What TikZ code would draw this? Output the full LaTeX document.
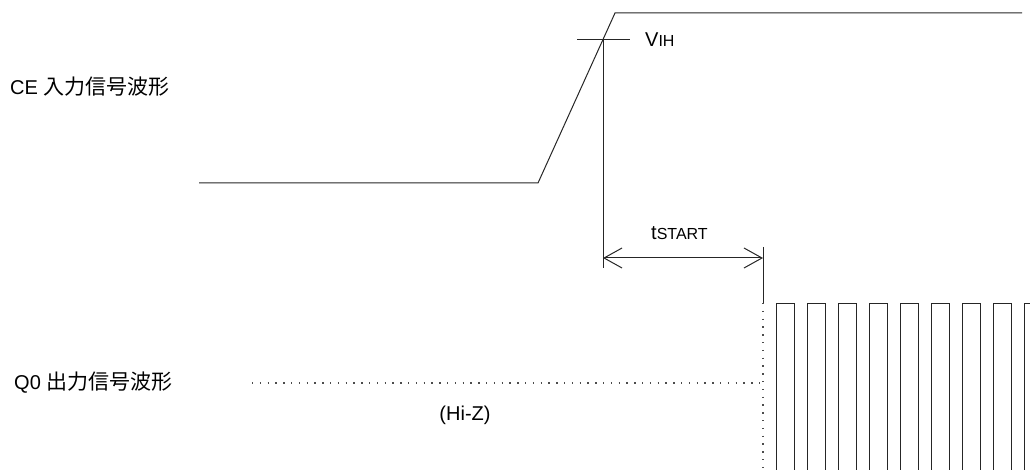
\documentclass[tikz,border=0pt]{standalone}
\usepackage{fontspec}
\setmainfont{Liberation Sans}
\newfontfamily\jpfont[Scale=1.05]{Noto Sans CJK JP}
\usetikzlibrary{arrows.meta}
\tikzset{
  wave/.style={line width=1pt, black!85},
  hiz/.style={line width=1.3pt, black!70, dash pattern=on 1.3pt off 6.5pt},
  lbl/.style={inner sep=0pt, font=\fontsize{20}{24}\selectfont},
  barb/.tip={Straight Barb[length=18pt, width=20pt, line width=1pt]},
}
\newcommand{\lowtxt}[1]{{\fontsize{16}{18}\selectfont #1}}

\begin{document}
\begin{tikzpicture}[x=1pt, y=-1pt]
  \useasboundingbox (0,0) rectangle (1030,470);
  \clip (0,0) rectangle (1030,470);
  % signal names
  \node[lbl, anchor=base west] (ce) at (10,95) {CE {\jpfont 入力信号波形}};
  \node[lbl, anchor=base west] (q0) at (14,389) {Q0 {\jpfont 出力信号波形}};
  % CE input: low, rising edge, high
  \draw[wave] (199,183) -- (538,183) -- (615,13) -- (1022,13);
  % VIH crossing and the tSTART marker
  \coordinate (vih) at (603,40);
  \coordinate (ts) at (603,258);
  \coordinate (te) at (763,258);
  \draw[wave] (577,40) -- (630,40);
  \node[lbl, anchor=base west] (vihlbl) at (645,47) {V\lowtxt{IH}};
  \draw[wave] (vih) -- (603,268);
  \draw[wave, barb-barb] (ts) -- (te);
  \node[lbl, anchor=base west] (tslbl) at (651,240) {t\lowtxt{START}};
  \draw[wave] (763,247) -- (763,303);
  % Q0 output: Hi-Z until tSTART
  \draw[hiz] (763,303) -- (763,470);
  \draw[hiz] (252,383) -- (763,383);
  \node[lbl] (hiz) at (465,415) {(Hi-Z)};
  % clock pulses
  \foreach \i in {0,...,8}
    \draw[wave] ({776+31*\i},470) -- ++(0,-167) -- ++(18,0) -- ++(0,167);
\end{tikzpicture}
\end{document}
